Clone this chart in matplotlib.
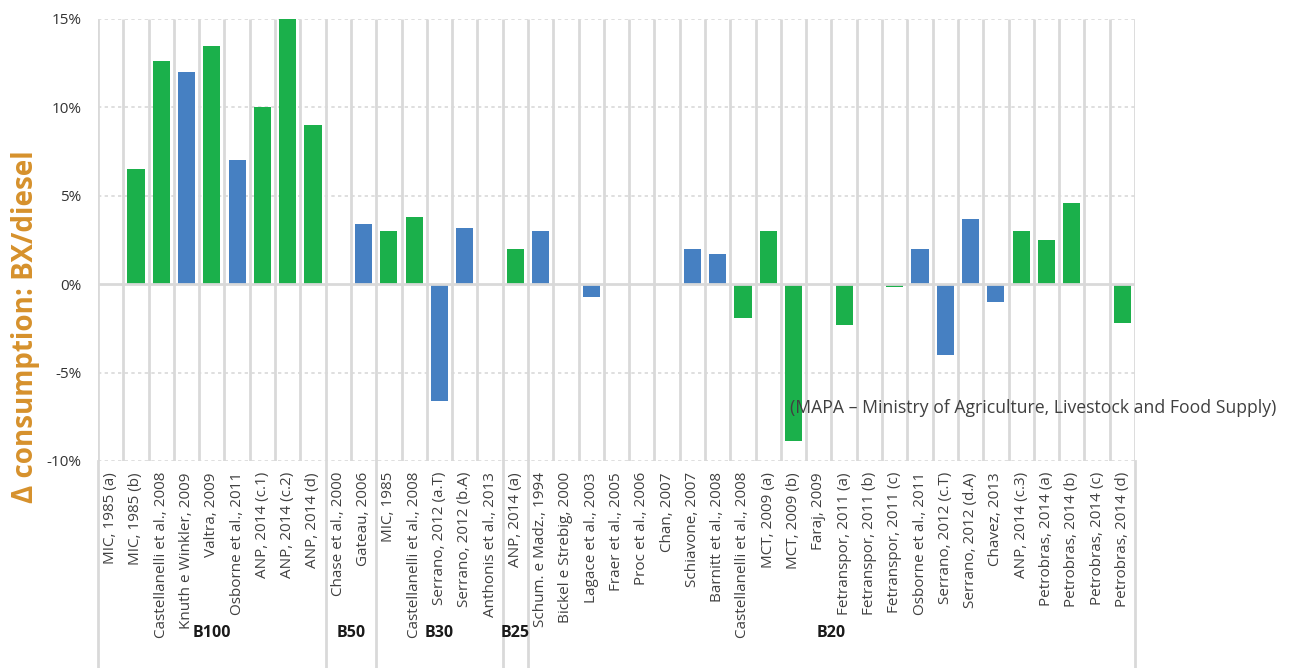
import numpy as np
import matplotlib
matplotlib.use("Agg")
import matplotlib.pyplot as plt
from matplotlib.transforms import blended_transform_factory

# studies (x axis), grouped by blend
studies = [
    "MIC, 1985 (a)", "MIC, 1985 (b)", "Castellanelli et al., 2008", "Knuth e Winkler, 2009",
    "Valtra, 2009", "Osborne et al., 2011", "ANP, 2014 (c.1)", "ANP, 2014 (c.2)", "ANP, 2014 (d)",
    "Chase et al., 2000", "Gateau, 2006",
    "MIC, 1985", "Castellanelli et al., 2008", "Serrano, 2012 (a.T)", "Serrano, 2012 (b.A)",
    "Anthonis et al., 2013",
    "ANP, 2014 (a)",
    "Schum. e Madz., 1994", "Bickel e Strebig, 2000", "Lagace et al., 2003", "Fraer et al., 2005",
    "Proc et al., 2006", "Chan, 2007", "Schiavone, 2007", "Barnitt et al., 2008",
    "Castellanelli et al., 2008", "MCT, 2009 (a)", "MCT, 2009 (b)", "Faraj, 2009",
    "Fetranspor, 2011 (a)", "Fetranspor, 2011 (b)", "Fetranspor, 2011 (c)", "Osborne et al., 2011",
    "Serrano, 2012 (c.T)", "Serrano, 2012 (d.A)", "Chavez, 2013", "ANP, 2014 (c.3)",
    "Petrobras, 2014 (a)", "Petrobras, 2014 (b)", "Petrobras, 2014 (c)", "Petrobras, 2014 (d)",
]

# change in consumption, %
delta = [
    0, 6.5, 12.6, 12.0, 13.5, 7.0, 10.0, 15.0, 9.0,
    0, 3.4,
    3.0, 3.8, -6.6, 3.2, 0,
    2.0,
    3.0, 0, -0.75, 0, 0, 0, 2.0, 1.7, -1.9, 3.0, -8.85, 0,
    -2.3, 0, -0.15, 2.0, -4.0, 3.7, -1.0, 3.0, 2.5, 4.6, 0, -2.2,
]

# series of each bar: "a" green, "b" blue
series = [
    "a", "a", "a", "b", "a", "b", "a", "a", "a",
    "a", "b",
    "a", "a", "b", "b", "a",
    "a",
    "b", "a", "b", "a", "a", "a", "b", "b", "a", "a", "a", "a",
    "a", "a", "a", "b", "b", "b", "b", "a", "a", "a", "a", "a",
]

groups = ["B100", "B50", "B30", "B25", "B20"]
group_sizes = [9, 2, 5, 1, 24]

note = "(MAPA \u2013 Ministry of Agriculture, Livestock and Food Supply)"

colors = {"a": "#1bb04b", "b": "#4680c2"}
grid_c = "#d9d9d9"
text_c = "#404040"

plt.rcParams["font.family"] = ["Open Sans", "DejaVu Sans"]

W, H = 1291, 668
fig = plt.figure(figsize=(W / 100, H / 100), dpi=100)
ax = fig.add_axes([98 / W, 1 - 461 / H, (1135 - 98) / W, (461 - 19) / H])

x = np.arange(len(studies))
ax.bar(x, delta, width=0.68, color=[colors[s] for s in series], zorder=2)

ax.set_xlim(-0.5, len(studies) - 0.5)
ax.set_ylim(-10, 15)
ax.set_yticks([-10, -5, 0, 5, 10, 15])
ax.set_yticklabels([f"{v}%" for v in [-10, -5, 0, 5, 10, 15]], fontsize=11, color="#333333")
ax.tick_params(axis="y", length=0, pad=12)

ax.set_xticks(x)
ax.set_xticklabels(studies, rotation=90, fontsize=11, color=text_c)
ax.tick_params(axis="x", length=0, pad=8)

for s in ax.spines.values():
    s.set_visible(False)

# dotted horizontal grid, solid zero line
for v in [-10, -5, 5, 10, 15]:
    ax.axhline(v, color=grid_c, lw=1.2, ls=(0, (2, 2)), zorder=1)
ax.axhline(0, color=grid_c, lw=2, zorder=3)

# vertical lines between studies
bounds = np.arange(len(studies) + 1) - 0.5
ax.vlines(bounds, -10, 15, color=grid_c, lw=2, zorder=1)

# group separators reach to the bottom of the figure
trans = blended_transform_factory(ax.transData, fig.transFigure)
edges = np.concatenate([[0], np.cumsum(group_sizes)]) - 0.5
for e in edges:
    ax.plot([e, e], [0, 1 - 461 / H], color=grid_c, lw=2, transform=trans, clip_on=False)
for g, a, b in zip(groups, edges[:-1], edges[1:]):
    ax.text((a + b) / 2, 1 - 633 / H, g, transform=trans, ha="center", va="center",
            fontsize=11.5, fontweight="bold", color="#1a1a1a")

fig.text(26 / W, 1 - 327 / H, "\u0394 consumption: BX/diesel", rotation=90, ha="center", va="center",
         fontsize=20, fontweight="bold", color="#d6912c")
fig.text(790 / W, 1 - 408 / H, note, ha="left", va="center", fontsize=12.7, color=text_c)

fig.savefig("out.png", dpi=100)
